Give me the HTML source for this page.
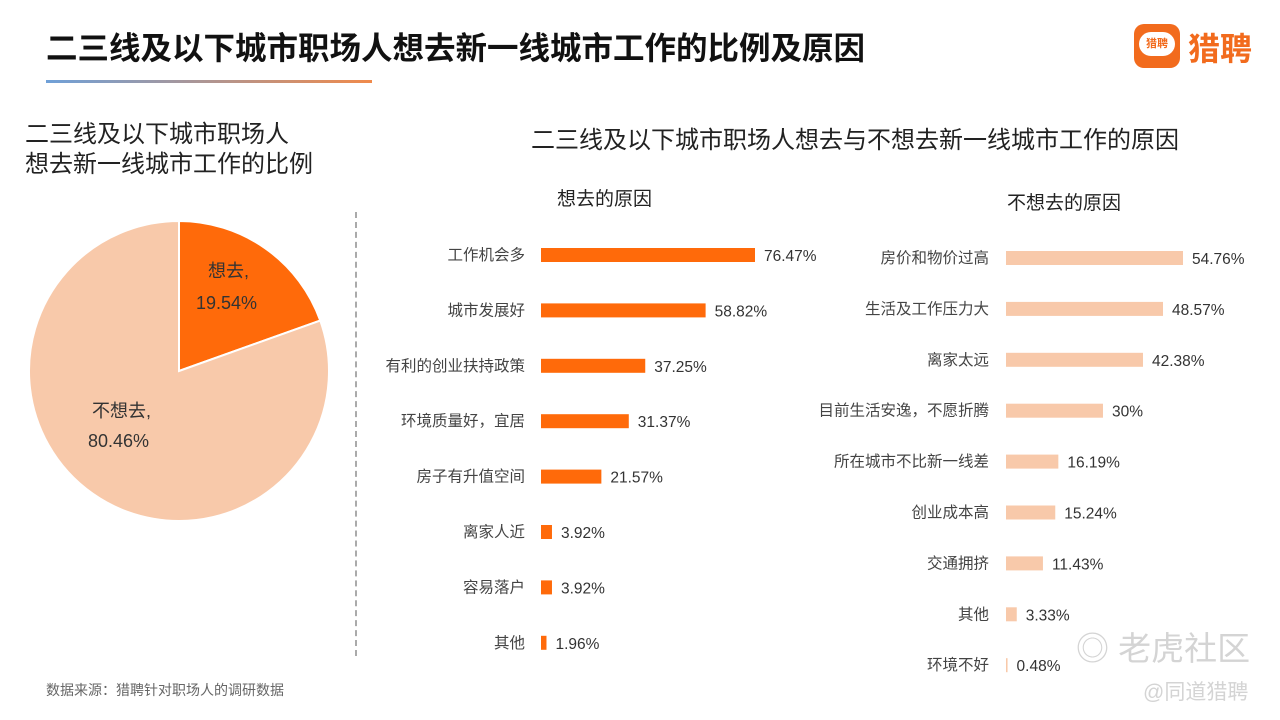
<!DOCTYPE html>
<html><head><meta charset="utf-8"><style>
body{margin:0;width:1280px;height:720px;background:#fff;font-family:"Liberation Sans","Noto Sans CJK SC",sans-serif;position:relative;overflow:hidden;color:#333}
.a{position:absolute;white-space:nowrap}
</style></head><body>
<div class="a" style="left:46px;top:23px;font-size:31.5px;font-weight:bold;color:#111">二三线及以下城市职场人想去新一线城市工作的比例及原因</div>
<div class="a" style="left:46px;top:80px;width:326px;height:3px;background:linear-gradient(90deg,#6fa0d8,#f08a4b)"></div>
<div class="a" style="left:1134px;top:24px;width:46px;height:44px;background:#f26b1d;border-radius:10px"><div style="position:absolute;left:5px;top:8px;width:36px;height:24px;background:#fff;border-radius:12px;font-size:11px;color:#f26b1d;text-align:center;line-height:24px;font-weight:bold">猎聘</div></div>
<div class="a" style="left:1188px;top:24px;font-size:32px;font-weight:bold;color:#f26b1d">猎聘</div>
<div class="a" style="left:25px;top:120px;font-size:24px;line-height:30px;color:#222">二三线及以下城市职场人<br>想去新一线城市工作的比例</div>
<div class="a" style="left:531px;top:120px;font-size:24px;color:#222">二三线及以下城市职场人想去与不想去新一线城市工作的原因</div>
<div class="a" style="left:557px;top:184px;font-size:19px;color:#222">想去的原因</div>
<div class="a" style="left:1007px;top:188px;font-size:19px;color:#222">不想去的原因</div>
<div class="a" style="left:355px;top:212px;height:444px;border-left:2px dashed #aaa"></div>
<div class="a" style="left:46px;top:680px;font-size:14px;color:#666">数据来源：猎聘针对职场人的调研数据</div>
<div class="a" style="left:1076px;top:622px;font-size:33px;color:#d4d4d4">◎ 老虎社区</div>
<div class="a" style="left:1143px;top:676px;font-size:21px;color:#d4d4d4">@同道猎聘</div>
<svg id="chart" class="a" style="left:0;top:0" width="1280" height="720"></svg>
<script>
const pieLabels=["想去","不想去"];
const pieValues=[19.54,80.46];
const wantCats=["工作机会多","城市发展好","有利的创业扶持政策","环境质量好，宜居","房子有升值空间","离家人近","容易落户","其他"];
const wantVals=[76.47,58.82,37.25,31.37,21.57,3.92,3.92,1.96];
const notCats=["房价和物价过高","生活及工作压力大","离家太远","目前生活安逸，不愿折腾","所在城市不比新一线差","创业成本高","交通拥挤","其他","环境不好"];
const notVals=[54.76,48.57,42.38,30,16.19,15.24,11.43,3.33,0.48];
const svg=document.getElementById('chart');const NS='http://www.w3.org/2000/svg';
function mk(t,at,txt){const e=document.createElementNS(NS,t);for(const k in at)e.setAttribute(k,at[k]);if(txt!=null)e.textContent=txt;svg.appendChild(e);return e;}
const cx=179,cy=371,r=150,tot=pieValues.reduce((a,b)=>a+b,0);
const pcol=["#ff6a0a","#f8c9aa"];let ang=-Math.PI/2;
pieValues.forEach((v,i)=>{const a2=ang+v/tot*2*Math.PI;const x1=cx+r*Math.cos(ang),y1=cy+r*Math.sin(ang),x2=cx+r*Math.cos(a2),y2=cy+r*Math.sin(a2);
const p=mk('path',{d:`M${cx},${cy}L${x1},${y1}A${r},${r} 0 ${a2-ang>Math.PI?1:0} 1 ${x2},${y2}Z`,fill:pcol[i],stroke:'#fff','stroke-width':2});


const t1=mk('text',{x:i==0?208:92,y:i==0?277:417,'font-size':18,fill:'#333'},pieLabels[i]+',');


const t2=mk('text',{x:i==0?196:88,y:i==0?309:447,'font-size':18,fill:'#333'},v.toFixed(2)+'%');


ang=a2;});
function bars(cats,vals,x0,scale,y0,step,col,lx,pre){cats.forEach((c,i)=>{const y=y0+i*step,w=Math.max(vals[i]*scale,1.5);
const b=mk('rect',{x:x0,y:y-7,width:w,height:14,fill:col});


const l=mk('text',{x:lx,y:y+5,'font-size':15.5,fill:'#444','text-anchor':'end'},c);


const v=mk('text',{x:x0+w+9,y:y+6,'font-size':15.5,fill:'#333'},vals[i]+'%');

});}
bars(wantCats,wantVals,541,214/76.47,255,55.4,'#ff6a0a',525,'want');
bars(notCats,notVals,1006,177/54.76,258,50.9,'#f8c9aa',989,'notwant');
</script>
</body></html>
